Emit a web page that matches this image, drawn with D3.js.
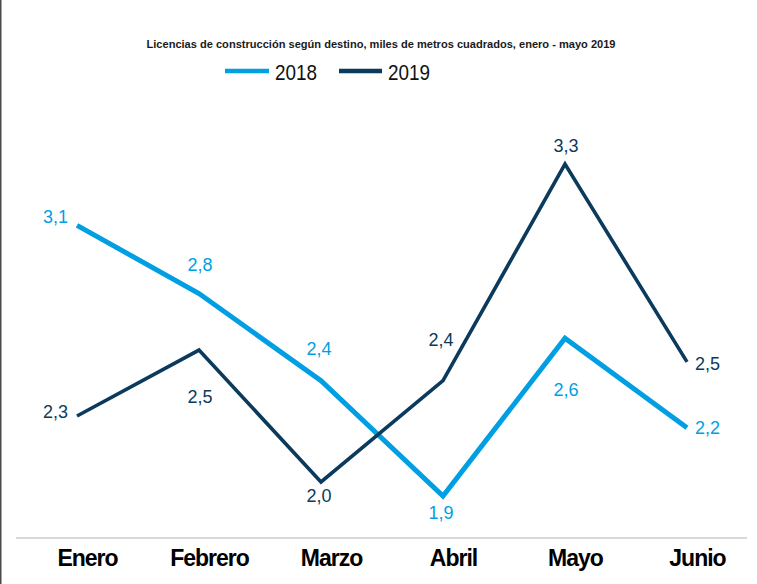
<!DOCTYPE html>
<html>
<head>
<meta charset="utf-8">
<script src="https://cdn.jsdelivr.net/npm/d3@7"></script>
<style>
  html, body { margin: 0; padding: 0; background: #fff; }
  svg { display: block; }
</style>
</head>
<body>
<svg id="chart" width="757" height="584"></svg>
<script>
// ---- data ----
const titleText = "Licencias de construcción según destino, miles de metros cuadrados, enero - mayo 2019";
const months = ["Enero", "Febrero", "Marzo", "Abril", "Mayo", "Junio"];
const seriesNames = ["2018", "2019"];
const values2018 = [3.07, 2.78, 2.41, 1.92, 2.59, 2.21];
const values2019 = [2.26, 2.54, 1.98, 2.41, 3.33, 2.49];

// ---- layout / style ----
const W = 757, H = 584;
const colors = { "2018": "#009FE3", "2019": "#0B3A5C" };
const widths = { "2018": 5, "2019": 3.6 };
// label placement relative to each point: [anchor, dx, dy]
const labelOffsets = {
  "2018": [["end", -9, -2], ["middle", 1, -23], ["middle", -2, -26], ["middle", -2, 23], ["middle", 1, 58], ["start", 8, 6]],
  "2019": [["end", -9, 2], ["middle", 1, 53], ["middle", -2, 20], ["middle", -2, -35], ["middle", 1, -12], ["start", 8, 8]]
};

const svg = d3.select("#chart");
const fmt = v => d3.format(".1f")(v).replace(".", ",");

const x = d3.scalePoint().domain(months).range([77, 687]);
const y = d3.scaleLinear().domain([1.5, 3.5]).range([594.9, 124.1]);

// left border
svg.append("line").attr("x1", 0.75).attr("x2", 0.75).attr("y1", 0).attr("y2", H)
  .attr("stroke", "#4a4a4a").attr("stroke-width", 1.5);

// title
svg.append("text").attr("x", 381).attr("y", 47.5).attr("text-anchor", "middle")
  .attr("font-family", "Liberation Sans, Arial, sans-serif").attr("font-weight", "bold")
  .attr("font-size", 10.5).attr("fill", "#1a1a1a")
  .attr("textLength", 469).attr("lengthAdjust", "spacingAndGlyphs")
  .text(titleText);

// legend
const legendPos = [{ x1: 225, x2: 269, tx: 275 }, { x1: 339, x2: 382, tx: 388 }];
seriesNames.forEach((s, i) => {
  const p = legendPos[i];
  svg.append("line").attr("x1", p.x1).attr("x2", p.x2).attr("y1", 71).attr("y2", 71)
    .attr("stroke", colors[s]).attr("stroke-width", 4.5);
  svg.append("text").attr("x", p.tx).attr("y", 79.5)
    .attr("font-family", "Liberation Sans, Arial, sans-serif").attr("font-size", 22)
    .attr("fill", "#111").attr("textLength", 42).attr("lengthAdjust", "spacingAndGlyphs")
    .text(s);
});

// baseline
svg.append("line").attr("x1", 16).attr("x2", 747).attr("y1", 538).attr("y2", 538)
  .attr("stroke", "#d9d9d9").attr("stroke-width", 2);

// x axis labels
const xAxis = d3.axisBottom(x).tickSize(0).tickPadding(0);
const gx = svg.append("g").attr("transform", "translate(10,550)").call(xAxis);
gx.select(".domain").remove();
gx.selectAll("text")
  .attr("dy", "0.71em")
  .attr("y", 0)
  .attr("font-family", "Liberation Sans, Arial, sans-serif")
  .attr("font-weight", "bold").attr("font-size", 23)
  .attr("letter-spacing", -1)
  .attr("fill", "#000");

// lines
const series = [
  { name: "2018", values: values2018 },
  { name: "2019", values: values2019 }
];
const line = d3.line().x((d, i) => x(months[i])).y(d => y(d)).curve(d3.curveLinear);

series.forEach(s => {
  svg.append("path").datum(s.values)
    .attr("d", line)
    .attr("fill", "none")
    .attr("stroke", colors[s.name])
    .attr("stroke-width", widths[s.name])
    .attr("stroke-linejoin", "miter")
    .attr("stroke-linecap", "butt");
});

// value labels
series.forEach(s => {
  svg.append("g").selectAll("text").data(s.values).join("text")
    .attr("x", (d, i) => x(months[i]) + labelOffsets[s.name][i][1])
    .attr("y", (d, i) => y(d) + labelOffsets[s.name][i][2])
    .attr("text-anchor", (d, i) => labelOffsets[s.name][i][0])
    .attr("font-family", "Liberation Sans, Arial, sans-serif")
    .attr("font-size", 18)
    .attr("fill", colors[s.name])
    .text(d => fmt(d));
});
</script>
</body>
</html>
